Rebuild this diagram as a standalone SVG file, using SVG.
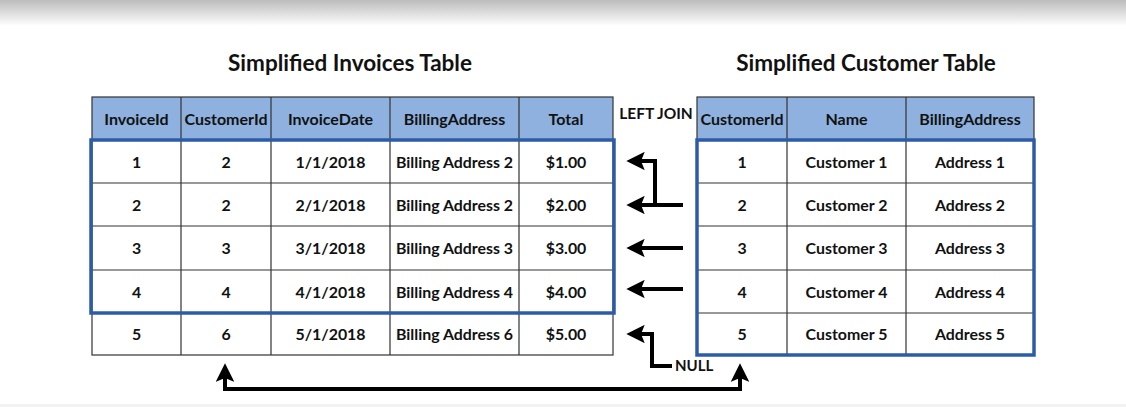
<svg xmlns="http://www.w3.org/2000/svg" width="1126" height="407" viewBox="0 0 1126 407">
<defs>
<linearGradient id="topfade" x1="0" y1="0" x2="0" y2="1">
<stop offset="0" stop-color="#bcbcbc"/>
<stop offset="1" stop-color="#ffffff"/>
</linearGradient>
<marker id="ah" viewBox="0 0 10 10" refX="8" refY="5" markerWidth="4.6" markerHeight="4.6" orient="auto-start-reverse" markerUnits="strokeWidth">
<path d="M0,0 L10,5 L0,10 L2,5 z" fill="#000"/>
</marker>
<style>
.t{font-family:Lato,"Liberation Sans",sans-serif;font-weight:bold;fill:#111;text-anchor:middle}
.title{font-size:22.5px}
.h{font-size:16px}
.c{font-size:15.9px}
.hdr{fill:#8fb1df;stroke:#333;stroke-width:1.2}
.cell{fill:#fff;stroke:#333;stroke-width:1.2}
.grid{stroke:#333;stroke-width:1.2;fill:none}
.blue{fill:none;stroke:#2c5ca8;stroke-width:3.5}
.arr{fill:none;stroke:#000;stroke-width:4;stroke-linejoin:miter}
</style>
</defs>
<rect x="0" y="0" width="1126" height="407" fill="#fff"/>
<rect x="0" y="0" width="1126" height="26" fill="url(#topfade)"/>
<rect x="0" y="404" width="1126" height="3" fill="#f2f2f2"/>

<g id="title-invoices"><text class="t title" x="350" y="71">Simplified Invoices Table</text></g>
<g id="title-customer"><text class="t title" x="866" y="71">Simplified Customer Table</text></g>

<g id="invoices-table">
<rect class="hdr" x="92" y="97" width="521" height="43"/>
<rect class="cell" x="92" y="140" width="521" height="215"/>
<path class="grid" d="M181,97V355M271,97V355M390,97V355M519,97V355M92,183H613M92,226H613M92,270H613M92,313H613"/>
<text class="t h" x="136.5" y="124.5">InvoiceId</text>
<text class="t h" x="226" y="124.5">CustomerId</text>
<text class="t h" x="330.5" y="124.5">InvoiceDate</text>
<text class="t h" x="454.5" y="124.5">BillingAddress</text>
<text class="t h" x="566" y="124.5">Total</text>
<g id="inv-row1"><text class="t c" x="136.5" y="167.5">1</text><text class="t c" x="226" y="167.5">2</text><text class="t c" x="330.5" y="167.5">1/1/2018</text><text class="t c" x="454.5" y="167.5">Billing Address 2</text><text class="t c" x="566" y="167.5">$1.00</text></g>
<g id="inv-row2"><text class="t c" x="136.5" y="210.5">2</text><text class="t c" x="226" y="210.5">2</text><text class="t c" x="330.5" y="210.5">2/1/2018</text><text class="t c" x="454.5" y="210.5">Billing Address 2</text><text class="t c" x="566" y="210.5">$2.00</text></g>
<g id="inv-row3"><text class="t c" x="136.5" y="254">3</text><text class="t c" x="226" y="254">3</text><text class="t c" x="330.5" y="254">3/1/2018</text><text class="t c" x="454.5" y="254">Billing Address 3</text><text class="t c" x="566" y="254">$3.00</text></g>
<g id="inv-row4"><text class="t c" x="136.5" y="297.5">4</text><text class="t c" x="226" y="297.5">4</text><text class="t c" x="330.5" y="297.5">4/1/2018</text><text class="t c" x="454.5" y="297.5">Billing Address 4</text><text class="t c" x="566" y="297.5">$4.00</text></g>
<g id="inv-row5"><text class="t c" x="136.5" y="340">5</text><text class="t c" x="226" y="340">6</text><text class="t c" x="330.5" y="340">5/1/2018</text><text class="t c" x="454.5" y="340">Billing Address 6</text><text class="t c" x="566" y="340">$5.00</text></g>
<rect class="blue" x="91" y="140" width="523" height="173"/>
</g>

<g id="customer-table">
<rect class="hdr" x="697" y="97" width="337" height="43"/>
<rect class="cell" x="697" y="140" width="337" height="215"/>
<path class="grid" d="M787,97V355M906,97V355M697,183H1034M697,226H1034M697,270H1034M697,313H1034"/>
<text class="t h" x="742" y="124.5">CustomerId</text>
<text class="t h" x="846.5" y="124.5">Name</text>
<text class="t h" x="970" y="124.5">BillingAddress</text>
<g id="cust-row1"><text class="t c" x="742" y="167.5">1</text><text class="t c" x="846.5" y="167.5">Customer 1</text><text class="t c" x="970" y="167.5">Address 1</text></g>
<g id="cust-row2"><text class="t c" x="742" y="210.5">2</text><text class="t c" x="846.5" y="210.5">Customer 2</text><text class="t c" x="970" y="210.5">Address 2</text></g>
<g id="cust-row3"><text class="t c" x="742" y="254">3</text><text class="t c" x="846.5" y="254">Customer 3</text><text class="t c" x="970" y="254">Address 3</text></g>
<g id="cust-row4"><text class="t c" x="742" y="297.5">4</text><text class="t c" x="846.5" y="297.5">Customer 4</text><text class="t c" x="970" y="297.5">Address 4</text></g>
<g id="cust-row5"><text class="t c" x="742" y="340">5</text><text class="t c" x="846.5" y="340">Customer 5</text><text class="t c" x="970" y="340">Address 5</text></g>
<rect class="blue" x="697" y="140" width="337" height="215"/>
</g>

<g id="left-join-label"><text class="t" style="font-size:15.5px" x="656" y="119">LEFT JOIN</text></g>
<g id="null-label"><text class="t" style="font-size:15px;text-anchor:start" x="675" y="371">NULL</text></g>

<g id="connectors">
<path class="arr" d="M683,205H630" marker-end="url(#ah)"/>
<path class="arr" d="M655,205V161H630" marker-end="url(#ah)"/>
<path class="arr" d="M683,248H630" marker-end="url(#ah)"/>
<path class="arr" d="M683,289H630" marker-end="url(#ah)"/>
<path class="arr" d="M672,366H652V334H630" marker-end="url(#ah)"/>
<path class="arr" d="M225,367V389H740V367" marker-start="url(#ah)" marker-end="url(#ah)"/>
</g>
</svg>
